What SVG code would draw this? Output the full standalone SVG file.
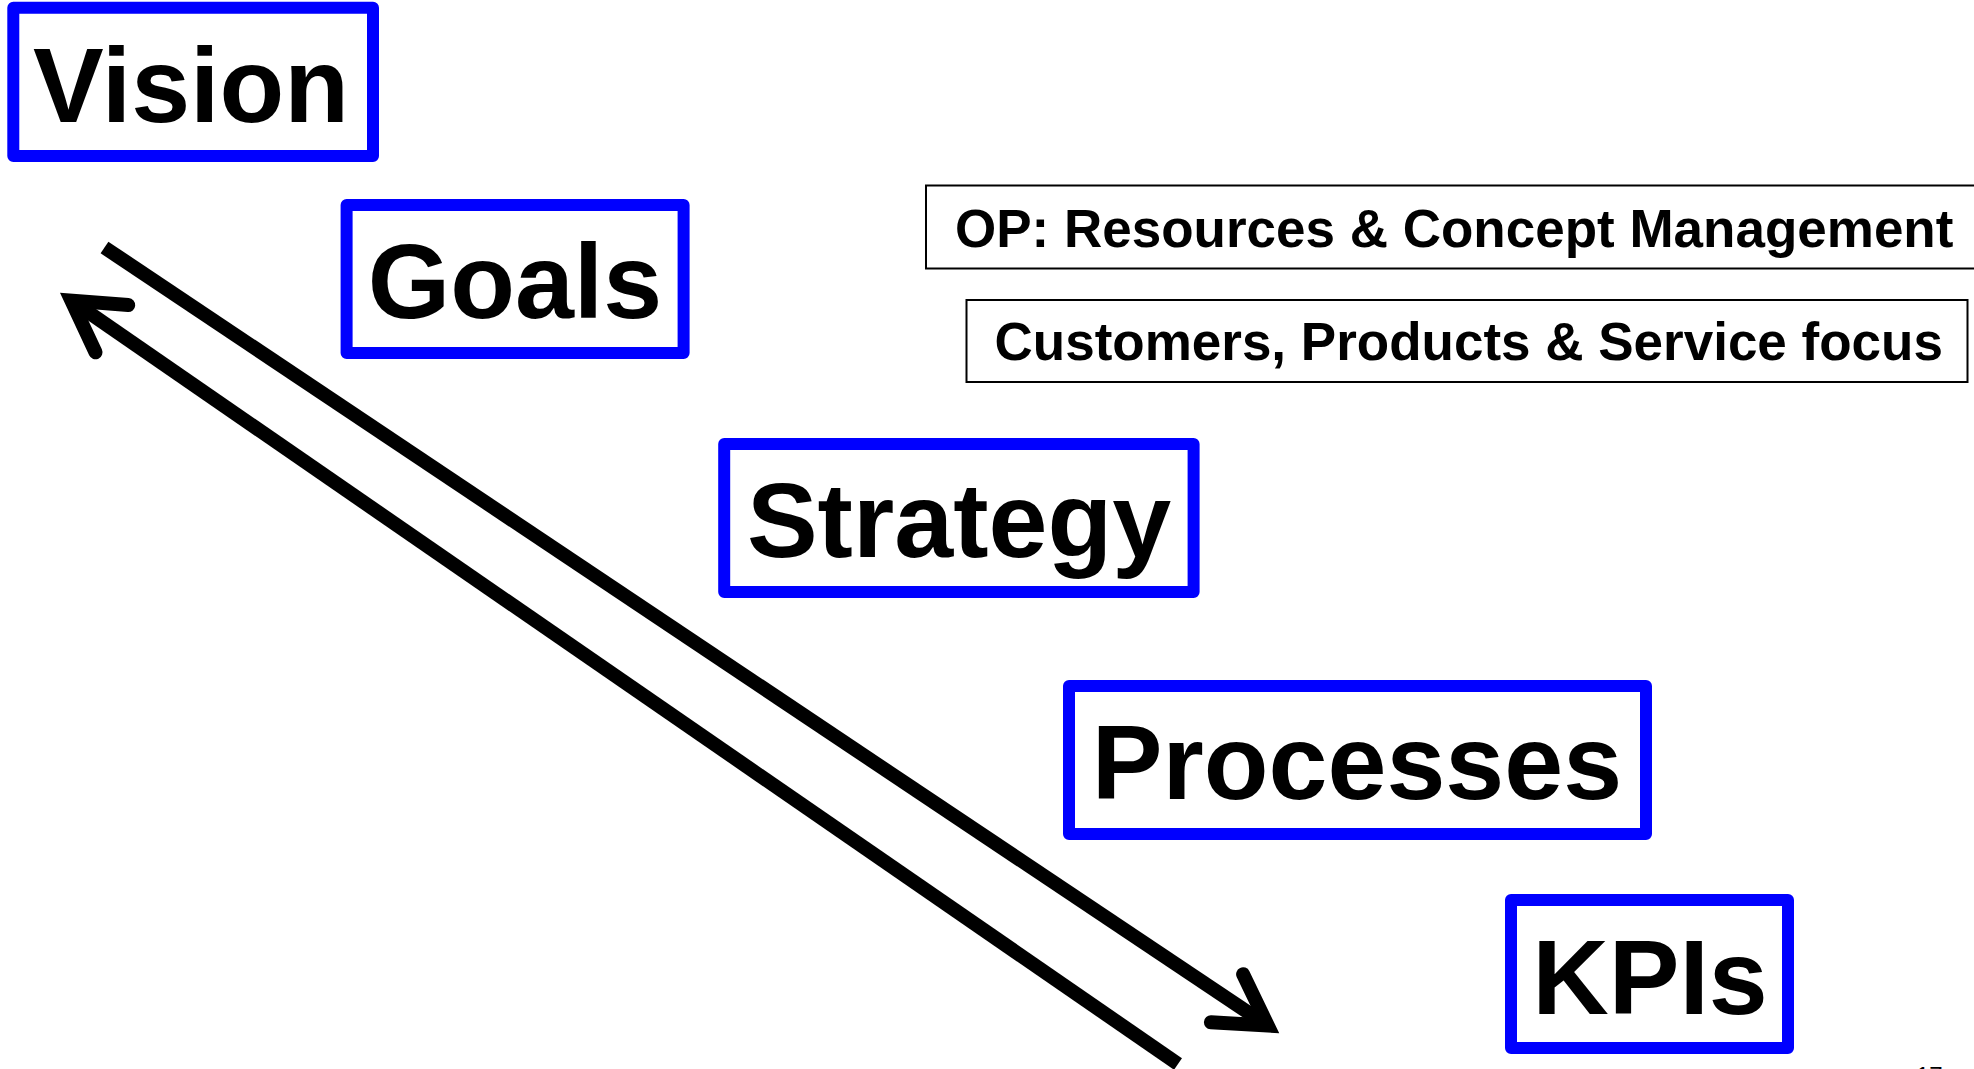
<svg xmlns="http://www.w3.org/2000/svg" width="1974" height="1069" viewBox="0 0 1974 1069">
<style>
.box{fill:#fff;stroke:#0000ff;stroke-width:12;stroke-linejoin:round}
.big{font-family:"Liberation Sans",Arial,sans-serif;font-weight:bold;font-size:106px;fill:#000;text-anchor:middle}
.tbox{fill:#fff;stroke:#000;stroke-width:2}
.mid{font-family:"Liberation Sans",Arial,sans-serif;font-weight:bold;font-size:53px;fill:#000}
.shaft{fill:none;stroke:#000;stroke-width:14;stroke-linecap:butt}
.head{fill:none;stroke:#000;stroke-width:14;stroke-linecap:round;stroke-linejoin:miter;stroke-miterlimit:6}
</style>
<rect width="1974" height="1069" fill="#fff"/>
<g id="connectors">
<line class="shaft" x1="104.5" y1="247.5" x2="1267.8" y2="1025.6"/>
<path class="head" d="M1243.1,974.2 L1267.8,1025.6 L1210.9,1022.3"/>
<line class="shaft" x1="1178" y1="1064" x2="71.4" y2="300.6"/>
<path class="head" d="M128.2,305.1 L71.4,300.6 L95.5,352.3"/>
</g>
<g id="vision">
<rect class="box" x="13.3" y="7.7" width="359.7" height="148.3"/>
<text class="big" x="191" y="121.7">Vision</text>
</g>
<g id="goals">
<rect class="box" x="346.6" y="205" width="337" height="148"/>
<text class="big" x="515" y="318">Goals</text>
</g>
<g id="strategy">
<rect class="box" x="724.2" y="444" width="469.4" height="148"/>
<text class="big" x="959" y="557">Strategy</text>
</g>
<g id="processes">
<rect class="box" x="1069" y="686" width="577" height="148"/>
<text class="big" x="1357" y="799">Processes</text>
</g>
<g id="kpis">
<rect class="box" x="1511" y="900" width="277" height="148"/>
<text class="big" x="1650" y="1014">KPIs</text>
</g>
<g id="op">
<rect class="tbox" x="926" y="185.5" width="1060" height="83"/>
<text class="mid" x="955" y="247">OP: Resources &amp; Concept Management</text>
</g>
<g id="customers">
<rect class="tbox" x="966.5" y="300" width="1001" height="82"/>
<text class="mid" x="994.5" y="360">Customers, Products &amp; Service focus</text>
</g>
<text x="1916" y="1084" font-family="Liberation Sans, Arial, sans-serif" font-size="24" fill="#000">17</text>
</svg>
